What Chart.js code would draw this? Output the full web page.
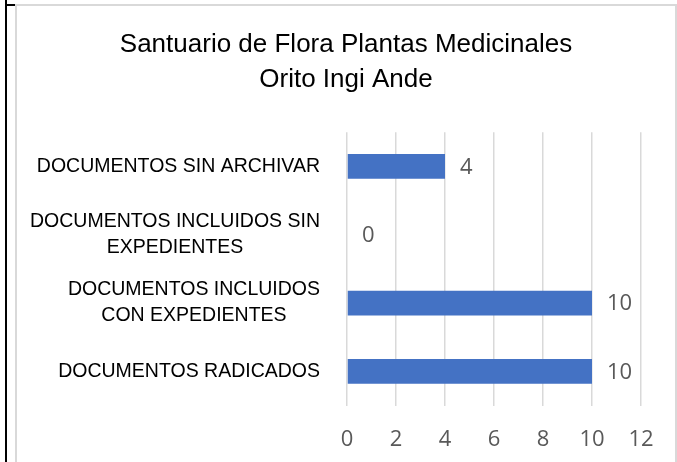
<!DOCTYPE html>
<html>
<head>
<meta charset="utf-8">
<script src="https://cdn.jsdelivr.net/npm/chart.js@4"></script>
<style>
  html, body { margin: 0; padding: 0; background: #fff; }
  body { width: 677px; height: 462px; position: relative; overflow: hidden; }
  .edge { position: absolute; left: 5px; top: 0; width: 2px; height: 462px; background: #000; }
  .notch { position: absolute; left: 5px; top: 4px; width: 11px; height: 2px; background: #000; }
  .frame { position: absolute; left: 15px; top: 4px; width: 658px; height: 470px; border: 2px solid #d9d9d9; border-bottom: none; }
  #wrap { position: absolute; left: 16px; top: 0; width: 660px; height: 487px; }
</style>
</head>
<body>
<div class="edge"></div>
<div class="notch"></div>
<div class="frame"></div>
<div id="wrap"><canvas id="chart" width="660" height="487"></canvas></div>
<script>
const titleLines = ['Santuario de Flora Plantas Medicinales', 'Orito Ingi Ande'];
const categories = [
    ['DOCUMENTOS SIN ARCHIVAR'],
    ['DOCUMENTOS INCLUIDOS SIN', 'EXPEDIENTES'],
    ['DOCUMENTOS INCLUIDOS', 'CON EXPEDIENTES'],
    ['DOCUMENTOS RADICADOS']
];
const values = [4, 0, 10, 10];
const xTicks = [0, 2, 4, 6, 8, 10, 12];

const labelFont = '19.5px "Liberation Sans", Arial, sans-serif';
const numFont = '22px "Open Sans", sans-serif';

// category labels: block right-aligned, lines centered inside the block
const catLabels = {
    id: 'catLabels',
    afterDraw(chart) {
        const ctx = chart.ctx;
        const yScale = chart.scales.y;
        const rightEdge = chart.chartArea.left - 27;
        const lineH = 26;
        ctx.save();
        ctx.font = labelFont;
        ctx.fillStyle = '#000';
        ctx.textAlign = 'center';
        ctx.textBaseline = 'middle';
        categories.forEach((lines, i) => {
            const cy = yScale.getPixelForTick(i);
            const w = Math.max(...lines.map(l => ctx.measureText(l).width));
            const cx = rightEdge - w / 2;
            const y0 = cy - (lines.length - 1) * lineH / 2;
            lines.forEach((l, j) => ctx.fillText(l, cx, y0 + j * lineH));
        });
        ctx.restore();
    }
};

// value labels just past the end of each bar
const valueLabels = {
    id: 'valueLabels',
    afterDatasetsDraw(chart) {
        const ctx = chart.ctx;
        const meta = chart.getDatasetMeta(0);
        ctx.save();
        ctx.font = numFont;
        ctx.fillStyle = '#595959';
        ctx.textAlign = 'left';
        ctx.textBaseline = 'middle';
        meta.data.forEach((bar, i) => {
            ctx.fillText(String(values[i]), bar.x + 15, bar.y + 1);
        });
        ctx.restore();
    }
};

new Chart(document.getElementById('chart'), {
    type: 'bar',
    data: {
        labels: categories,
        datasets: [{
            data: values,
            backgroundColor: '#4472C4',
            borderWidth: 0,
            categoryPercentage: 1,
            barPercentage: 0.36
        }]
    },
    options: {
        indexAxis: 'y',
        responsive: false,
        animation: false,
        layout: { padding: { top: 27, right: 35, bottom: 13, left: 35 } },
        plugins: {
            legend: { display: false },
            tooltip: { enabled: false },
            title: {
                display: true,
                text: titleLines,
                color: '#000',
                font: { family: '"Liberation Sans", Arial, sans-serif', size: 26, weight: 'normal', lineHeight: 1.35 },
                padding: { top: 0, bottom: 35 }
            }
        },
        scales: {
            x: {
                min: 0,
                max: 12,
                afterBuildTicks(scale) {
                    scale.ticks = xTicks.map(v => ({ value: v }));
                },
                grid: { color: '#d9d9d9', lineWidth: 1.5, drawTicks: false },
                border: { display: false },
                ticks: {
                    color: '#595959',
                    padding: 21,
                    font: { family: '"Open Sans", sans-serif', size: 22 }
                }
            },
            y: {
                grid: { display: false },
                border: { display: false },
                ticks: { display: false },
                afterFit(scale) { scale.width = 296; }
            }
        }
    },
    plugins: [catLabels, valueLabels]
});
</script>
</body>
</html>
